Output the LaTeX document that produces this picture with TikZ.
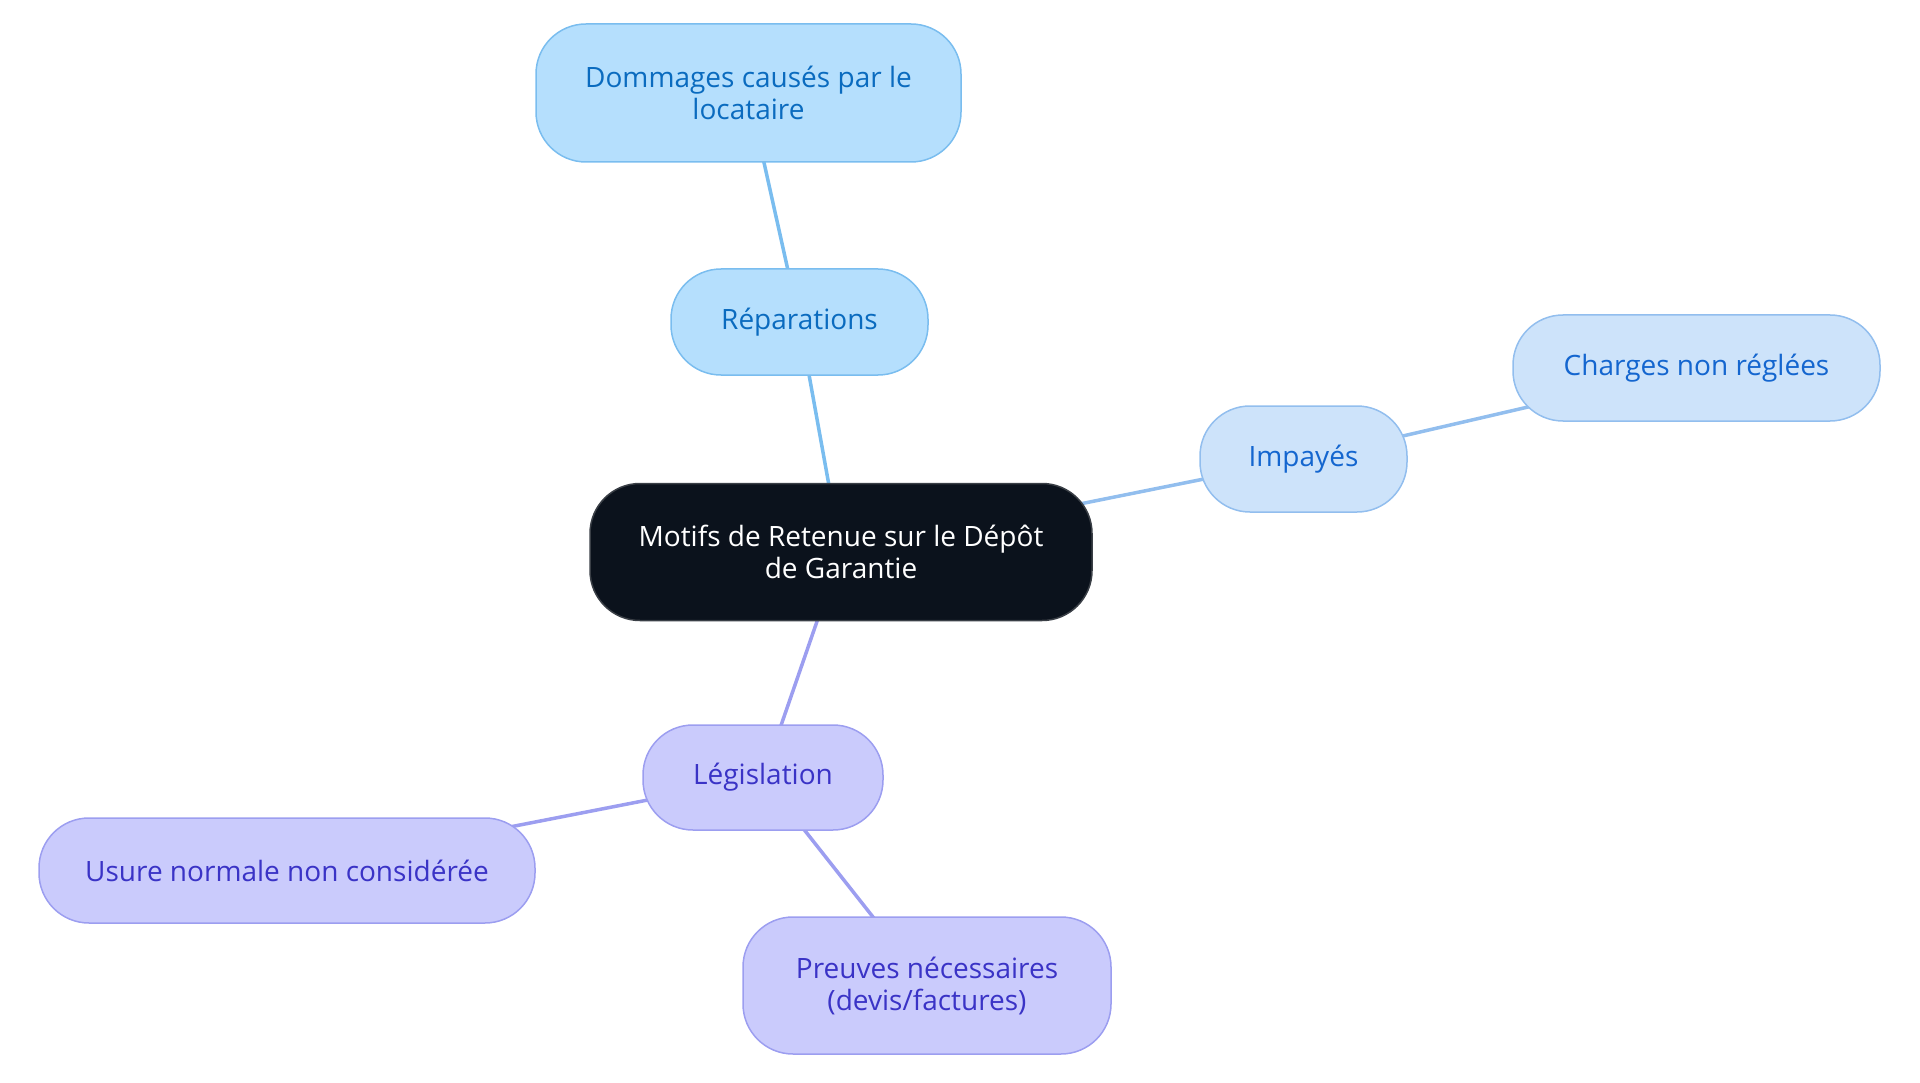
\documentclass[tikz,border=0pt]{standalone}
\usepackage{fontspec}
\setmainfont{Open Sans}
\usetikzlibrary{backgrounds}
\definecolor{rootfill}{HTML}{0B121C}
\definecolor{rootdraw}{HTML}{3A3F46}
\definecolor{afill}{HTML}{B5DFFD}
\definecolor{adraw}{HTML}{7ABDEF}
\definecolor{atext}{HTML}{0A6BBF}
\definecolor{bfill}{HTML}{CDE3FA}
\definecolor{bdraw}{HTML}{92BEEE}
\definecolor{btext}{HTML}{1466CF}
\definecolor{cfill}{HTML}{CACBFC}
\definecolor{cdraw}{HTML}{9C9EF0}
\definecolor{ctext}{HTML}{3A33C6}
\begin{document}
\begin{tikzpicture}[x=1pt,y=-1pt,
  box/.style={rounded corners=50pt, line width=1.5pt, align=center, inner sep=0pt,
    font=\fontsize{28}{32}\selectfont},
  rootbox/.style={box, fill=rootfill, draw=rootdraw, text=white},
  abox/.style={box, fill=afill, draw=adraw, text=atext},
  bbox/.style={box, fill=bfill, draw=bdraw, text=btext},
  cbox/.style={box, fill=cfill, draw=cdraw, text=ctext},
  aline/.style={draw=adraw, line width=3.5pt},
  bline/.style={draw=bdraw, line width=3.5pt},
  cline/.style={draw=cdraw, line width=3.5pt}]
\useasboundingbox (0,0) rectangle (1920,1083);
\node[rootbox, minimum width=502pt, minimum height=137pt] (root) at (841,552) {Motifs de Retenue sur le Dépôt\\de Garantie};
\node[abox, minimum width=257pt, minimum height=106pt] (rep) at (799.5,322) {Réparations};
\node[abox, minimum width=425pt, minimum height=138pt] (dom) at (748.5,93) {Dommages causés par le\\locataire};
\node[bbox, minimum width=207pt, minimum height=106pt] (imp) at (1303.5,459) {Impayés};
\node[bbox, minimum width=367pt, minimum height=106pt] (cha) at (1696.5,368) {Charges non réglées};
\node[cbox, minimum width=240pt, minimum height=105pt] (leg) at (763,777.5) {Législation};
\node[cbox, minimum width=496pt, minimum height=105pt] (usu) at (287,870.5) {Usure normale non considérée};
\node[cbox, minimum width=368pt, minimum height=137pt] (pre) at (927,985.5) {Preuves nécessaires\\(devis/factures)};
\begin{scope}[on background layer]
\path[aline] (root.center) -- (rep.center);
\path[aline] (rep.center) -- (dom.center);
\path[bline] (root.center) -- (imp.center);
\path[bline] (imp.center) -- (cha.center);
\path[cline] (root.center) -- (leg.center);
\path[cline] (leg.center) -- (usu.center);
\path[cline] (leg.center) -- (pre.center);
\end{scope}
\end{tikzpicture}
\end{document}
